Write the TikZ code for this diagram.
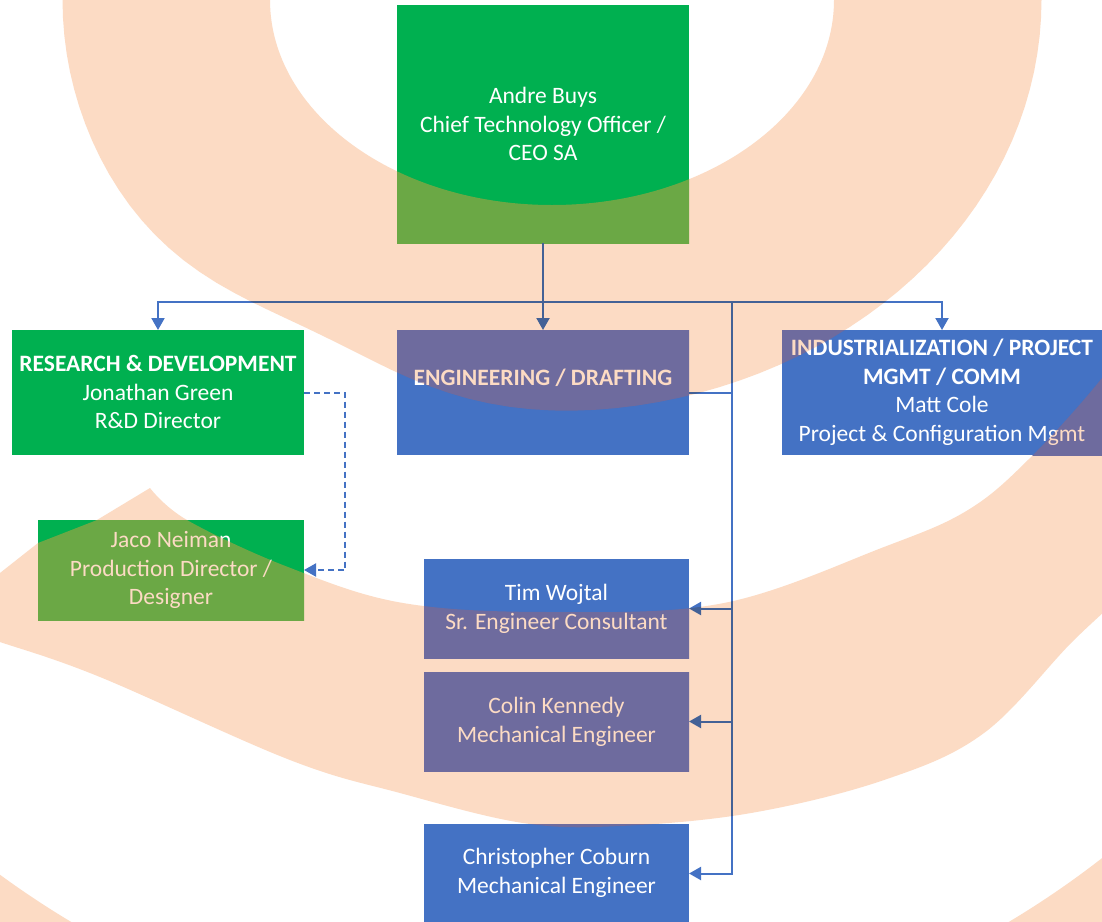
\documentclass[tikz,border=0pt]{standalone}
\usepackage{fontspec}
\setmainfont{Carlito}
\usetikzlibrary{arrows.meta}

\definecolor{boxgreen}{RGB}{0,176,80}
\definecolor{boxblue}{RGB}{68,114,196}
\definecolor{peach}{RGB}{252,219,196}
\definecolor{greenunder}{RGB}{109,196,91}
\definecolor{blueunder}{RGB}{112,125,206}
\definecolor{linkblue}{RGB}{68,114,196}

% The decorative arcs behind the chart, in pixel-like units (y grows downwards)
\newcommand\arcshapes[1]{%
  \fill[#1,even odd rule]
     plot[domain=0:360,samples=145,variable=\t]
       ({552+489.5*cos(\t)*(1-0.06*exp(-((\t-120)/18)^2))},
        {412*sin(\t)*(1-0.06*exp(-((\t-120)/18)^2))}) -- cycle
     (552,0) ellipse[x radius=282pt,y radius=205pt];
  \fill[#1] (-20,590) -- (0,573) -- (38,543) -- (97,520) -- (150,488)
     -- plot[smooth,tension=0.6] coordinates {(150,488) (187,520) (288,567) (403,603) (553,612) (724,603) (884,547) (968,510) (1030,458) (1102,378) (1140,320)}
     -- (1160,320) -- (1160,560)
     -- plot[smooth,tension=0.6] coordinates {(1140,580) (1074,640) (984,733) (884,780) (751,813) (620,826) (523,823) (400,793) (290,760) (100,677) (0,642) (-20,636)}
     -- cycle;
  \begin{scope}
    \clip (-50,700) rectangle (1150,1000);
    \fill[#1,even odd rule] (-100,-100) rectangle (1200,1100) (540,136) circle[radius=915pt];
  \end{scope}
}

\begin{document}
\begin{tikzpicture}[x=1pt,y=-1pt,
  orgbox/.style={draw=none,inner sep=0pt,outer sep=0pt,rectangle},
  txt/.style={align=center,text=white,inner sep=0pt,font=\fontsize{23.5}{28.5}\selectfont},
  conn/.style={draw=linkblue,line width=2pt},
  tip/.style={-{Triangle[width=13pt,length=12pt]}},
  dashlink/.style={conn,dash pattern=on 6pt off 4pt}]

\useasboundingbox (0,0) rectangle (1102,921);
\fill[white] (0,0) rectangle (1102,921);

% boxes
\node[orgbox,fill=boxgreen,minimum width=292pt,minimum height=238pt] (ceo) at (543,124) {};
\node[orgbox,fill=boxgreen,minimum width=292pt,minimum height=125pt] (rd) at (158,392.5) {};
\node[orgbox,fill=boxgreen,minimum width=266pt,minimum height=100pt] (jaco) at (171,570) {};
\node[orgbox,fill=boxblue,minimum width=292pt,minimum height=125pt] (eng) at (543,392.5) {};
\node[orgbox,fill=boxblue,minimum width=320pt,minimum height=125pt] (ind) at (942,392.5) {};
\node[orgbox,fill=boxblue,minimum width=265pt,minimum height=99pt] (tim) at (556.5,608.5) {};
\node[orgbox,fill=boxblue,minimum width=265pt,minimum height=99pt] (colin) at (556.5,721.5) {};
\node[orgbox,fill=boxblue,minimum width=265pt,minimum height=99pt] (chris) at (556.5,873.5) {};

% tint of the arcs where they cross the boxes
\foreach \b/\c in {ceo/greenunder,rd/greenunder,jaco/greenunder,eng/blueunder,ind/blueunder,tim/blueunder,colin/blueunder,chris/blueunder}{
  \begin{scope}
    \clip (\b.south west) rectangle (\b.north east);
    \arcshapes{\c}
  \end{scope}
}

% texts
\node[txt] (ceo-t) at (543,124) {Andre Buys\\Chief Technology Officer /\\CEO SA};
\node[txt] (rd-t) at (158,392) {\textbf{RESEARCH \& DEVELOPMENT}\\Jonathan Green\\R\&D Director};
\node[txt] (jaco-t) at (171,570) {Jaco Neiman\\Production Director /\\Designer};
\node[txt] (eng-t) at (543,378) {\textbf{ENGINEERING / DRAFTING}};
\node[txt] (ind-t) at (942,392.5) {\textbf{INDUSTRIALIZATION / PROJECT}\\\textbf{MGMT / COMM}\\Matt Cole\\Project \& Configuration Mgmt};
\node[txt] (tim-t) at (556.5,609) {Tim Wojtal\\Sr. Engineer Consultant};
\node[txt] (colin-t) at (556.5,722) {Colin Kennedy\\Mechanical Engineer};
\node[txt] (chris-t) at (556.5,873) {Christopher Coburn\\Mechanical Engineer};

% connectors
\coordinate (bus) at (543,302);
\coordinate (spine) at (732,302);
\draw[conn] (ceo.south) -- (bus);
\draw[conn,tip] (bus) -| (rd.north);
\draw[conn,tip] (bus) -- (eng.north);
\draw[conn,tip] (bus) -| (ind.north);
\draw[conn] (eng.east) -- (eng.east -| spine);
\draw[conn,tip] (spine) |- (tim.east);
\draw[conn,tip] (spine) |- (colin.east);
\draw[conn,tip] (spine) |- (chris.east);
\draw[dashlink,tip] (rd.east) -- ++(41,0) |- (jaco.east);

% the arcs themselves, multiplied over everything
\begin{scope}[blend mode=multiply]
  \arcshapes{peach}
\end{scope}
\end{tikzpicture}
\end{document}
